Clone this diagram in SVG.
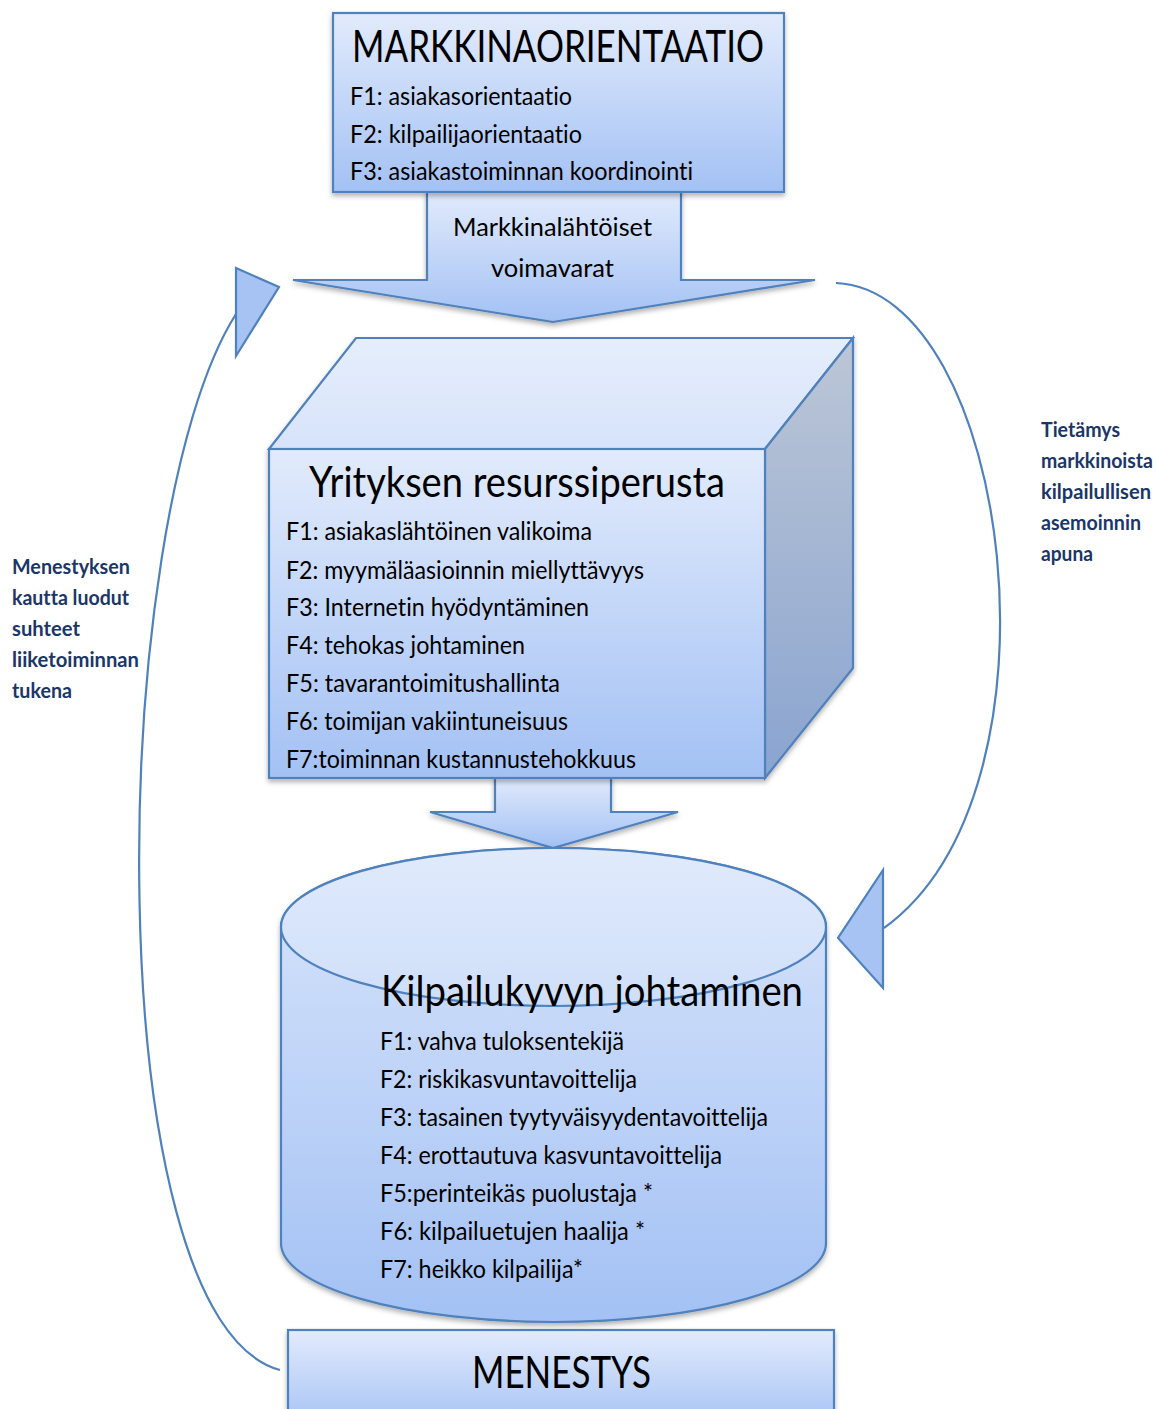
<svg xmlns="http://www.w3.org/2000/svg" width="1157" height="1409" viewBox="0 0 1157 1409">
<defs>
<linearGradient id="gBox" x1="0" y1="0" x2="0" y2="1"><stop offset="0" stop-color="#e2ebfc"/><stop offset="1" stop-color="#a3c1f4"/></linearGradient>
<linearGradient id="gTop" x1="0" y1="0" x2="0" y2="1"><stop offset="0" stop-color="#e6eefc"/><stop offset="1" stop-color="#d6e3fa"/></linearGradient>
<linearGradient id="gSide" x1="0" y1="0" x2="0" y2="1"><stop offset="0" stop-color="#bcc6d6"/><stop offset="1" stop-color="#8aa4d0"/></linearGradient>
<linearGradient id="gEll" x1="0" y1="0" x2="0" y2="1"><stop offset="0" stop-color="#e0eafc"/><stop offset="1" stop-color="#cfdff9"/></linearGradient>
<linearGradient id="gCyl" x1="0" y1="0" x2="0" y2="1"><stop offset="0" stop-color="#d9e5fb"/><stop offset="1" stop-color="#a3c1f4"/></linearGradient>
<filter id="sh" x="-10%" y="-10%" width="120%" height="130%"><feDropShadow dx="0" dy="3" stdDeviation="2.5" flood-color="#000" flood-opacity="0.3"/></filter>
<style>
.st{stroke:#4f81bd;stroke-width:2.2;stroke-linejoin:miter}
.ln{fill:none;stroke:#4f81bd;stroke-width:2.2}
.hd{fill:#a6c3f3;stroke:#4f81bd;stroke-width:2.2}
text{font-variant-ligatures:none}
.t{font-family:Lato,"Open Sans",sans-serif;fill:#000}
.big{font-size:44px}
.mid{font-size:42px}
.sm{font-size:25px}
.lab{font-family:Lato,"Open Sans",sans-serif;font-weight:bold;font-size:20px;fill:#1b3668}
</style>
</defs>

<g id="connectors">
<path class="ln" d="M 280 1370 C 95 1320 105 520 236 314"/>
<polygon class="hd" points="236,268 279,287 236,356"/>
<path class="ln" d="M 836 283 C 1010 290 1075 790 884 928"/>
<polygon class="hd" points="883,870 838,938 883,988"/>
<path id="arrow1" class="st" fill="url(#gBox)" filter="url(#sh)" d="M 427 190 L 681 190 L 681 280 L 815 280 L 553 322 L 293 280 L 427 280 Z"/>
<text class="t sm" x="453" y="236" textLength="199" lengthAdjust="spacingAndGlyphs">Markkinalähtöiset</text>
<text class="t sm" x="491" y="277" textLength="123" lengthAdjust="spacingAndGlyphs">voimavarat</text>
<path id="arrow2" class="st" fill="url(#gBox)" filter="url(#sh)" d="M 495 776 L 611 776 L 611 812 L 678 812 L 553 848 L 430 812 L 495 812 Z"/>
</g>

<g id="markkinaorientaatio">
<rect class="st" x="333" y="13" width="451" height="179" fill="url(#gBox)" filter="url(#sh)"/>
<text class="t big" x="352" y="62" textLength="412" lengthAdjust="spacingAndGlyphs">MARKKINAORIENTAATIO</text>
<text class="t sm" x="350" y="105" textLength="222" lengthAdjust="spacingAndGlyphs">F1: asiakasorientaatio</text>
<text class="t sm" x="350" y="143" textLength="232" lengthAdjust="spacingAndGlyphs">F2: kilpailijaorientaatio</text>
<text class="t sm" x="350" y="180" textLength="343" lengthAdjust="spacingAndGlyphs">F3: asiakastoiminnan koordinointi</text>
</g>

<g id="resurssiperusta">
<g filter="url(#sh)">
<polygon class="st" points="269,449 356,338 853,338 765,449" fill="url(#gTop)"/>
<polygon class="st" points="765,449 853,338 853,668 765,778" fill="url(#gSide)"/>
<rect class="st" x="269" y="449" width="496" height="329" fill="url(#gBox)"/>
</g>
<text class="t mid" x="309" y="497" textLength="416" lengthAdjust="spacingAndGlyphs">Yrityksen resurssiperusta</text>
<text class="t sm" x="286" y="540" textLength="306" lengthAdjust="spacingAndGlyphs">F1: asiakaslähtöinen valikoima</text>
<text class="t sm" x="286" y="579" textLength="358" lengthAdjust="spacingAndGlyphs">F2: myymäläasioinnin miellyttävyys</text>
<text class="t sm" x="286" y="616" textLength="303" lengthAdjust="spacingAndGlyphs">F3: Internetin hyödyntäminen</text>
<text class="t sm" x="286" y="654" textLength="239" lengthAdjust="spacingAndGlyphs">F4: tehokas johtaminen</text>
<text class="t sm" x="286" y="692" textLength="274" lengthAdjust="spacingAndGlyphs">F5: tavarantoimitushallinta</text>
<text class="t sm" x="286" y="730" textLength="282" lengthAdjust="spacingAndGlyphs">F6: toimijan vakiintuneisuus</text>
<text class="t sm" x="286" y="768" textLength="350" lengthAdjust="spacingAndGlyphs">F7:toiminnan kustannustehokkuus</text>
</g>

<g id="kilpailukyky">
<path class="st" filter="url(#sh)" fill="url(#gCyl)" d="M 281 927 L 281 1243 A 272.5 79 0 0 0 826 1243 L 826 927 A 272.5 79 0 0 0 281 927 Z"/>
<ellipse class="st" cx="553.5" cy="927" rx="272.5" ry="79" fill="url(#gEll)"/>
<text class="t mid" x="381" y="1006" textLength="422" lengthAdjust="spacingAndGlyphs">Kilpailukyvyn johtaminen</text>
<text class="t sm" x="380" y="1050" textLength="244" lengthAdjust="spacingAndGlyphs">F1: vahva tuloksentekijä</text>
<text class="t sm" x="380" y="1088" textLength="257" lengthAdjust="spacingAndGlyphs">F2: riskikasvuntavoittelija</text>
<text class="t sm" x="380" y="1126" textLength="388" lengthAdjust="spacingAndGlyphs">F3: tasainen tyytyväisyydentavoittelija</text>
<text class="t sm" x="380" y="1164" textLength="342" lengthAdjust="spacingAndGlyphs">F4: erottautuva kasvuntavoittelija</text>
<text class="t sm" x="380" y="1202" textLength="273" lengthAdjust="spacingAndGlyphs">F5:perinteikäs puolustaja *</text>
<text class="t sm" x="380" y="1240" textLength="265" lengthAdjust="spacingAndGlyphs">F6: kilpailuetujen haalija *</text>
<text class="t sm" x="380" y="1278" textLength="203" lengthAdjust="spacingAndGlyphs">F7: heikko kilpailija*</text>
</g>

<g id="menestys">
<rect class="st" x="288" y="1330" width="546" height="100" fill="url(#gBox)" filter="url(#sh)"/>
<text class="t big" x="472" y="1388" textLength="179" lengthAdjust="spacingAndGlyphs">MENESTYS</text>
</g>

<g id="label-left">
<text class="lab" x="12" y="574" textLength="118" lengthAdjust="spacingAndGlyphs">Menestyksen</text>
<text class="lab" x="12" y="605" textLength="117" lengthAdjust="spacingAndGlyphs">kautta luodut</text>
<text class="lab" x="12" y="636" textLength="68" lengthAdjust="spacingAndGlyphs">suhteet</text>
<text class="lab" x="12" y="667" textLength="127" lengthAdjust="spacingAndGlyphs">liiketoiminnan</text>
<text class="lab" x="12" y="698" textLength="60" lengthAdjust="spacingAndGlyphs">tukena</text>
</g>

<g id="label-right">
<text class="lab" x="1041" y="437" textLength="79" lengthAdjust="spacingAndGlyphs">Tietämys</text>
<text class="lab" x="1041" y="468" textLength="112" lengthAdjust="spacingAndGlyphs">markkinoista</text>
<text class="lab" x="1041" y="499" textLength="110" lengthAdjust="spacingAndGlyphs">kilpailullisen</text>
<text class="lab" x="1041" y="530" textLength="100" lengthAdjust="spacingAndGlyphs">asemoinnin</text>
<text class="lab" x="1041" y="561" textLength="52" lengthAdjust="spacingAndGlyphs">apuna</text>
</g>
</svg>
